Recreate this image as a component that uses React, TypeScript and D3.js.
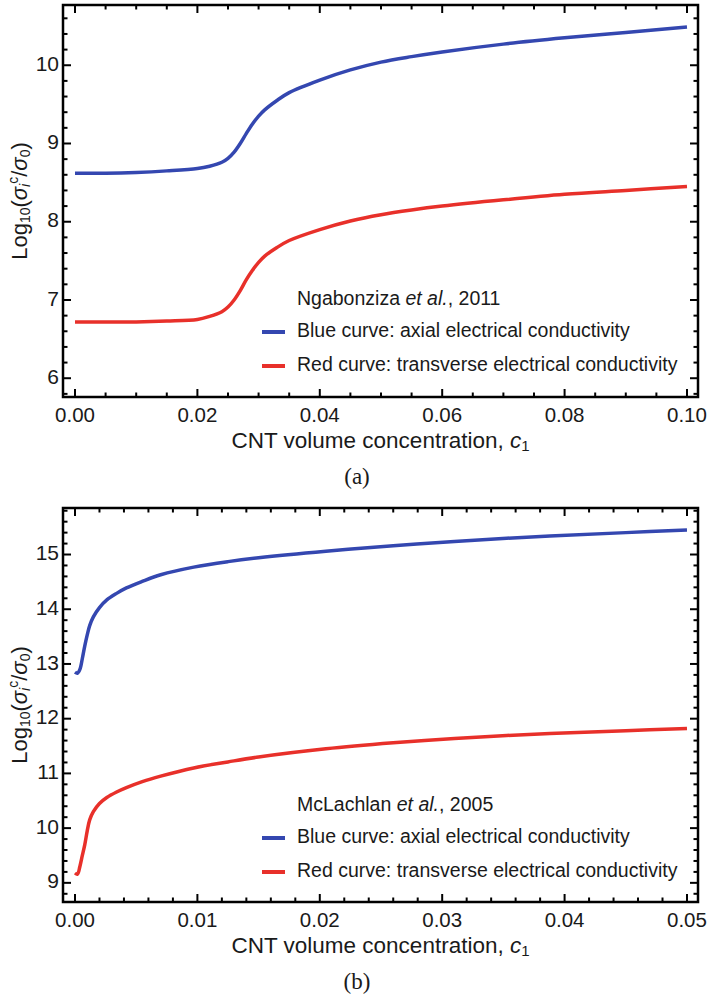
import React from 'react';
import * as d3 from 'd3';

// panel (a): Ngabonziza et al., 2011
const concA = [0, 0.005, 0.01, 0.015, 0.02, 0.022, 0.024, 0.025, 0.026, 0.027, 0.028, 0.029, 0.03, 0.031, 0.033, 0.035, 0.04, 0.045, 0.05, 0.055, 0.06, 0.07, 0.08, 0.09, 0.1];
const blueA = [8.62, 8.62, 8.63, 8.65, 8.68, 8.71, 8.76, 8.81, 8.89, 9.0, 9.13, 9.25, 9.35, 9.43, 9.55, 9.65, 9.81, 9.94, 10.04, 10.11, 10.17, 10.27, 10.35, 10.42, 10.49];
const redA = [6.72, 6.72, 6.72, 6.73, 6.75, 6.79, 6.85, 6.91, 7.0, 7.12, 7.26, 7.38, 7.48, 7.56, 7.67, 7.76, 7.9, 8.01, 8.09, 8.15, 8.2, 8.28, 8.35, 8.4, 8.45];
const xTicksA = [0, 0.02, 0.04, 0.06, 0.08, 0.1];
const yTicksA = [6, 7, 8, 9, 10];

// panel (b): McLachlan et al., 2005
const concB = [0, 0.0002, 0.0004, 0.0006, 0.0008, 0.001, 0.0012, 0.0015, 0.002, 0.0026, 0.0034, 0.0042, 0.0055, 0.007, 0.0097, 0.0125, 0.015, 0.0205, 0.026, 0.031, 0.0388, 0.045, 0.05];
const blueB = [12.85, 12.83, 12.9, 13.1, 13.33, 13.53, 13.7, 13.86, 14.03, 14.17, 14.29, 14.39, 14.51, 14.63, 14.77, 14.87, 14.94, 15.06, 15.16, 15.24, 15.34, 15.4, 15.45];
const redB = [9.18, 9.16, 9.3, 9.5, 9.7, 9.95, 10.15, 10.3, 10.45, 10.56, 10.66, 10.74, 10.85, 10.95, 11.1, 11.21, 11.3, 11.45, 11.56, 11.64, 11.73, 11.78, 11.82];
const xTicksB = [0, 0.01, 0.02, 0.03, 0.04, 0.05];
const yTicksB = [9, 10, 11, 12, 13, 14, 15];

const BLUE = '#3447b0';
const RED = '#e8302a';
const INK = '#1a1a1a';
const SANS = '"Liberation Sans", Arial, sans-serif';

type PanelProps = {
  top: number;
  bottom: number;
  xDomain: [number, number];
  yDomain: [number, number];
  conc: number[];
  blue: number[];
  red: number[];
  xTicks: number[];
  xMinorStep: number;
  yTicks: number[];
  source: string;
  year: string;
  legendY: number;
  tag: string;
};

const left = 63;
const right = 698;

const Panel = (p: PanelProps) => {
  const x = d3.scaleLinear().domain(p.xDomain).range([left, right]);
  const y = d3.scaleLinear().domain(p.yDomain).range([p.bottom, p.top]);

  const line = d3.line<number>()
    .x((_, i) => x(p.conc[i]))
    .y(d => y(d))
    .curve(d3.curveCatmullRom.alpha(0.5));

  const xMinor = d3.range(0, p.xDomain[1] + 1e-9, p.xMinorStep)
    .filter(v => !p.xTicks.some(t => Math.abs(t - v) < 1e-9));
  const yMinor = d3.range(Math.ceil(p.yDomain[0] * 5) / 5, p.yDomain[1], 0.2)
    .filter(v => Math.abs(v - Math.round(v)) > 1e-6);

  const major = 8;
  const minor = 4.5;
  const midY = (p.top + p.bottom) / 2;

  return (
    <g fontFamily={SANS} fill={INK}>
      {/* ticks, all four sides, pointing inward */}
      <g stroke="#000" strokeWidth={2}>
        {p.xTicks.map(t => (
          <g key={'xt' + t}>
            <line x1={x(t)} x2={x(t)} y1={p.bottom} y2={p.bottom - major} />
            <line x1={x(t)} x2={x(t)} y1={p.top} y2={p.top + major} />
          </g>
        ))}
        {xMinor.map(t => (
          <g key={'xm' + t}>
            <line x1={x(t)} x2={x(t)} y1={p.bottom} y2={p.bottom - minor} />
            <line x1={x(t)} x2={x(t)} y1={p.top} y2={p.top + minor} />
          </g>
        ))}
        {p.yTicks.map(t => (
          <g key={'yt' + t}>
            <line x1={left} x2={left + major} y1={y(t)} y2={y(t)} />
            <line x1={right} x2={right - major} y1={y(t)} y2={y(t)} />
          </g>
        ))}
        {yMinor.map(t => (
          <g key={'ym' + t}>
            <line x1={left} x2={left + minor} y1={y(t)} y2={y(t)} />
            <line x1={right} x2={right - minor} y1={y(t)} y2={y(t)} />
          </g>
        ))}
      </g>

      <path d={line(p.blue) || ''} fill="none" stroke={BLUE} strokeWidth={3.5} />
      <path d={line(p.red) || ''} fill="none" stroke={RED} strokeWidth={3.5} />

      <rect x={left} y={p.top} width={right - left} height={p.bottom - p.top}
        fill="none" stroke="#000" strokeWidth={2.5} />

      {/* tick labels */}
      {p.xTicks.map(t => (
        <text key={'xl' + t} x={x(t)} y={p.bottom + 20} fontSize={20.5}
          textAnchor="middle" dominantBaseline="middle">{t.toFixed(2)}</text>
      ))}
      {p.yTicks.map(t => (
        <text key={'yl' + t} x={left - 4} y={y(t)} fontSize={21}
          textAnchor="end" dominantBaseline="middle">{t}</text>
      ))}

      {/* axis titles */}
      <text x={(left + right) / 2} y={p.bottom + 45} fontSize={22.5}
        textAnchor="middle" dominantBaseline="middle">
        CNT volume concentration, <tspan fontStyle="italic">c</tspan>
        <tspan fontSize={15} dy={5}>1</tspan>
      </text>
      <text transform={`translate(21,${midY}) rotate(-90)`} fontSize={22}
        textAnchor="middle" dominantBaseline="middle">
        Log<tspan fontSize={14} dy={5}>10</tspan>
        <tspan dy={-5}>(</tspan>
        <tspan fontStyle="italic">σ</tspan>
        <tspan fontSize={14} fontStyle="italic" dy={5}>i</tspan>
        <tspan fontSize={14} dy={-12}>c</tspan>
        <tspan dy={7}>/</tspan>
        <tspan fontStyle="italic">σ</tspan>
        <tspan fontSize={14} dy={5}>0</tspan>
        <tspan dy={-5}>)</tspan>
      </text>

      {/* legend */}
      <text x={297} y={p.legendY} fontSize={19.5} dominantBaseline="middle">
        {p.source} <tspan fontStyle="italic">et al.</tspan>, {p.year}
      </text>
      <line x1={262} x2={285} y1={p.legendY + 32} y2={p.legendY + 32} stroke={BLUE} strokeWidth={4} />
      <text x={297} y={p.legendY + 32} fontSize={19.5} dominantBaseline="middle">
        Blue curve: axial electrical conductivity
      </text>
      <line x1={262} x2={285} y1={p.legendY + 66} y2={p.legendY + 66} stroke={RED} strokeWidth={4} />
      <text x={297} y={p.legendY + 66} fontSize={19.5} dominantBaseline="middle">
        Red curve: transverse electrical conductivity
      </text>

      <text x={357} y={p.bottom + 82} fontSize={23} fontFamily='"Liberation Serif", "Times New Roman", serif'
        textAnchor="middle" dominantBaseline="middle">{p.tag}</text>
    </g>
  );
};

export default function App() {
  return (
    <svg width={707} height={1001} style={{ position: 'absolute', left: 0, top: 0, background: '#fff' }}>
      <Panel top={5} bottom={397} xDomain={[-0.00196, 0.1018]} yDomain={[5.76, 10.77]}
        conc={concA} blue={blueA} red={redA} xTicks={xTicksA} xMinorStep={0.005}
        yTicks={yTicksA} source="Ngabonziza" year="2011" legendY={300} tag="(a)" />
      <Panel top={508} bottom={902} xDomain={[-0.00098, 0.0509]} yDomain={[8.65, 15.85]}
        conc={concB} blue={blueB} red={redB} xTicks={xTicksB} xMinorStep={0.002}
        yTicks={yTicksB} source="McLachlan" year="2005" legendY={806} tag="(b)" />
    </svg>
  );
}
